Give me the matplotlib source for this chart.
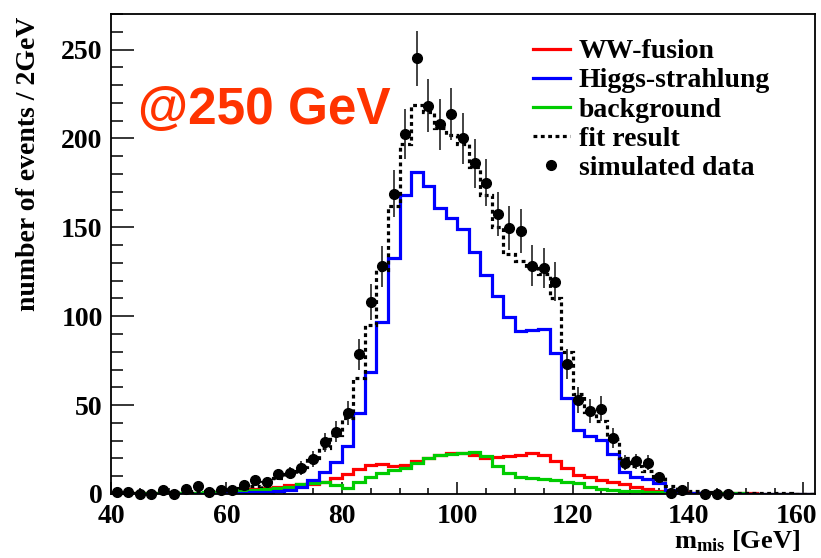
import numpy as np
import matplotlib
matplotlib.use("Agg")
import matplotlib.pyplot as plt
import matplotlib.transforms as mtransforms
from matplotlib.lines import Line2D

# binning: 2 GeV bins of missing mass
edges = np.arange(40, 163, 2)

# simulated data, one value per bin (nan = no point drawn)
data = [1, 1, 0, 0, 2, 0, 3, 4.5, 1, 2,
        2.5, 5, 8, 7, 11, 12, 14.5, 19.5, 29, 35,
        45.5, 78.5, 108, 128, 169, 202.5, 245, 218.5, 208, 213.5,
        200, 186, 175, 157.5, 149.5, 148, 128.5, 127, 119.5, 73,
        53, 46.5, 48, 31.5, 17.7, 18.3, 17.7, 9.5, 0.7, 2.3,
        np.nan, 0, 0, 0, np.nan, np.nan, np.nan, np.nan, np.nan, np.nan, np.nan]

higgs_strahlung = [0, 0, 0, 0, 0, 0, 0, 0, 0.2, 0.2,
                   0.3, 0.5, 1, 1.2, 1.6, 2.5, 4, 8, 12.5, 18,
                   27, 45.6, 68.5, 96.5, 133, 168, 181, 173.5, 161, 155.3,
                   149, 136, 123, 111.6, 99.4, 91.8, 92.5, 93, 79.4, 54,
                   36, 32.4, 30.5, 22.6, 12.6, 9.8, 8.7, 6.2, 2.5, 0.8,
                   0.3, 0, 0, 0, 0, 0, 0, 0, 0, 0, 0]

ww_fusion = [0.3, 0.3, 0.4, 0.4, 0.5, 0.5, 0.6, 0.7, 0.8, 1.0,
             1.3, 2, 2.6, 3.4, 4.1, 4.8, 5.5, 5.8, 7, 9,
             11.5, 14, 16.2, 16.8, 16, 16.5, 18.5, 20.5, 22, 23.2,
             23, 22, 20.2, 20.8, 21.2, 22, 22.8, 21.8, 18.5, 14.8,
             10.7, 9.6, 8, 7, 5.5, 4.2, 2.8, 1.9, 1.3, 1.0,
             0.8, 0.6, 0.5, 0.4, 0.3, 0.3, 0.2, 0.2, 0.2, 0.1, 0.1]

background = [0.2, 0.2, 0.3, 0.3, 0.4, 0.5, 0.6, 0.7, 0.9, 1.1,
              1.5, 2, 2.5, 3, 3.5, 4.2, 5.5, 6.4, 6.5, 5,
              3.6, 7, 9.8, 11.7, 13.6, 14.5, 17.5, 20.2, 21.7, 22.4,
              23, 23.9, 21.5, 16, 11.7, 9.8, 8.9, 8.5, 8, 7,
              6, 4.1, 2.8, 2.3, 1.9, 1.5, 1.2, 1, 0.8, 0.6,
              0.5, 0.4, 0.4, 0.3, 0.3, 0.2, 0.2, 0.2, 0.1, 0.1, 0.1]

fit_result = [0.7, 0.7, 0.8, 0.8, 1, 1.1, 1.3, 1.5, 1.9, 2.3,
              2.8, 3.5, 4.7, 6.5, 8.8, 11.5, 15, 20, 26, 33,
              43, 65, 95, 126, 162, 197, 219, 215, 206, 202,
              197, 184, 168, 150, 135, 131, 127, 124, 110, 80,
              56, 46, 41, 31, 20, 16, 13, 9.3, 4.7, 2.5,
              1.5, 1, 0.9, 0.7, 0.6, 0.5, 0.4, 0.4, 0.3, 0.2, 0.2]

RED = "#ff0000"
BLUE = "#0000ff"
GREEN = "#00cc00"

plt.rcParams["font.family"] = ["Liberation Serif", "DejaVu Serif"]
plt.rcParams["font.weight"] = "bold"
plt.rcParams["mathtext.fontset"] = "custom"
plt.rcParams["mathtext.rm"] = "Liberation Serif:bold"
plt.rcParams["mathtext.it"] = "Liberation Serif:bold"
plt.rcParams["mathtext.bf"] = "Liberation Serif:bold"


def main():
    fig = plt.figure(figsize=(8.21, 5.58), dpi=100)
    ax = fig.add_axes([0.1352, 0.1147, 0.8575, 0.8602])

    lw = 2.3
    ax.stairs(ww_fusion, edges, color=RED, lw=lw, zorder=2)
    ax.stairs(background, edges, color=GREEN, lw=lw, zorder=2.1)
    ax.stairs(higgs_strahlung, edges, color=BLUE, lw=lw, zorder=2.2)
    ax.stairs(fit_result, edges, color="black", lw=lw,
              linestyle=(0, (1.2, 1.1)), zorder=3)

    centers = 0.5 * (edges[:-1] + edges[1:])
    d = np.array(data, dtype=float)
    err = np.sqrt(np.nan_to_num(d))
    ax.errorbar(centers, d, yerr=err, fmt="none", ecolor="#222222",
                elinewidth=1.2, capsize=0, zorder=4)
    ax.plot(centers, d, "o", color="black", ms=7, zorder=5, clip_on=False)

    ax.set_xlim(40, 162)
    ax.set_ylim(0, 270)

    ax.set_xticks(np.arange(40, 161, 20))
    ax.set_xticks(np.arange(40, 162, 5), minor=True)
    ax.set_yticks(np.arange(0, 251, 50))
    ax.set_yticks(np.arange(0, 271, 10), minor=True)
    ax.tick_params(axis="both", which="both", direction="in",
                   labelsize=20, width=1.1, top=False, right=False)
    ax.tick_params(axis="y", which="major", length=16.5, pad=6)
    ax.tick_params(axis="y", which="minor", length=8.4)
    ax.tick_params(axis="x", which="major", length=8.6, pad=7)
    ax.tick_params(axis="x", which="minor", length=4.3)
    for s in ax.spines.values():
        s.set_linewidth(1.3)

    # pull the last x tick label ("160") slightly left so it stays inside
    shift = mtransforms.ScaledTranslation(-5 / 72, 0, fig.dpi_scale_trans)
    last = ax.get_xticklabels()[-1]
    last.set_transform(last.get_transform() + shift)

    ax.set_ylabel("number of events / 2GeV", fontsize=20,
                  fontweight="bold", loc="top")
    ax.yaxis.set_label_coords(-0.1, 0.994)
    ax.set_xlabel(r"m$_{\rm mis}$ [GeV]", fontsize=19,
                  fontweight="bold", loc="right")
    ax.xaxis.set_label_coords(0.979, -0.072)

    ax.text(0.038, 0.771, "@250 GeV", transform=ax.transAxes,
            fontsize=37, color="#ff3300", fontweight="bold",
            family=["Liberation Sans", "DejaVu Sans"], va="baseline")

    handles = [
        Line2D([], [], color=RED, lw=lw),
        Line2D([], [], color=BLUE, lw=lw),
        Line2D([], [], color=GREEN, lw=lw),
        Line2D([], [], color="black", lw=lw, linestyle=(0, (1.2, 1.1))),
        Line2D([], [], color="black", marker="o", ms=7, ls="none"),
    ]
    labels = ["WW-fusion", "Higgs-strahlung", "background",
              "fit result", "simulated data"]
    ax.legend(handles, labels, loc="upper left",
              bbox_to_anchor=(0.599, 0.948), frameon=False, fontsize=20,
              handlelength=1.35, handletextpad=0.3, labelspacing=0.13,
              borderpad=0, borderaxespad=0)

    fig.savefig("out.png", dpi=100)


if __name__ == "__main__":
    main()
